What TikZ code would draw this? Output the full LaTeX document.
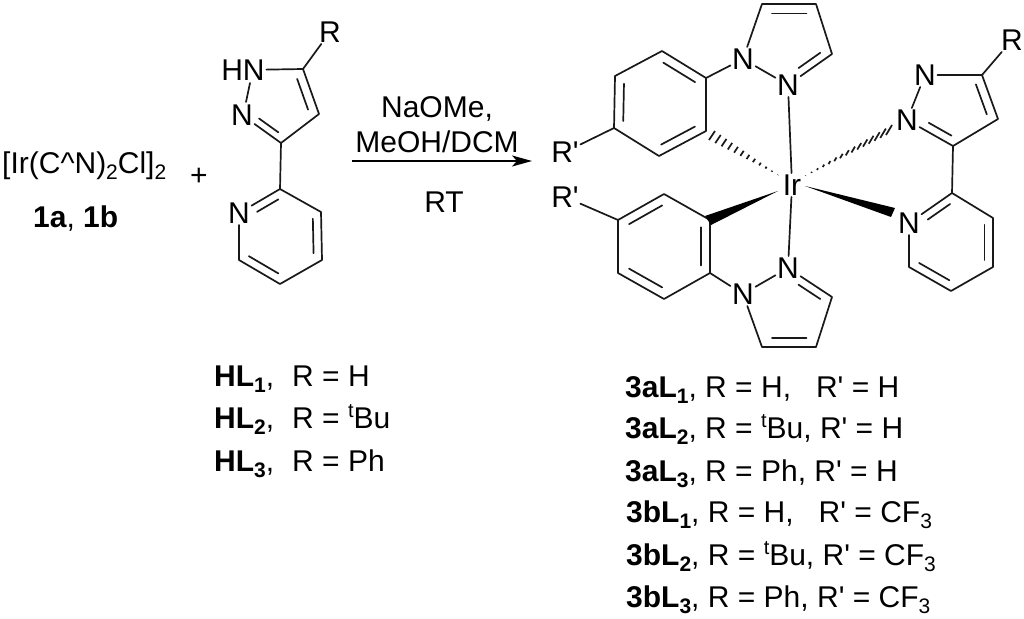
\documentclass[tikz,border=0pt]{standalone}
\usepackage{fontspec}
\setmainfont{Liberation Sans}
\usetikzlibrary{calc,arrows.meta}
\tikzset{
  atom/.style={inner sep=1.5pt,font=\fontsize{30}{30}\selectfont,anchor=center},
  lab/.style={inner sep=0pt,font=\fontsize{30}{30}\selectfont,anchor=base west},
  bond/.style={line width=1.7pt,line cap=round,line join=round,draw=black!90},
  hashline/.style={line width=1.7pt,draw=black!90},
  wedgefill/.style={fill=black}
}
\newcommand{\lsb}[1]{\raisebox{-6pt}{\fontsize{21}{21}\selectfont #1}}
\newcommand{\lsp}[1]{\raisebox{11pt}{\fontsize{20}{20}\selectfont #1}}
\newcommand{\prm}{\textquotesingle}
% inner line of a double bond: scale f about ring centre, trimmed ta / tb along the bond
\newcommand{\ib}[6]{\draw[bond] ($(#4)!#1!($(#2)!#5!(#3)$)$) -- ($(#4)!#1!($(#3)!#6!(#2)$)$);}
\newcommand{\hashb}[4]{%
  \foreach \i in {0,...,#4}{
    \pgfmathsetmacro{\t}{1-\i/(#4)*0.97}
    \draw[hashline] ($(#1)!\t!(#2)$) -- ($(#1)!\t!(#3)$);}
}
\begin{document}
\begin{tikzpicture}[x=1pt,y=-1pt]
\useasboundingbox (0,0) rectangle (1024,618);
\fill[white] (0,0) rectangle (1024,618);

% ---- left text
\node[lab] (dimer) at (2,173) {[Ir(C\textasciicircum N)\lsb{2}Cl]\lsb{2}};
\node[lab] (cpd) at (33,227) {\textbf{1a}, \textbf{1b}};
\node[atom] (plus) at (199,177) {+};

% ---- free ligand
\node[atom] (LR) at (330,32) {R};
\node[atom] (LHN) at (243,70) {HN};
\node[atom] (LNa) at (242,115) {N};
\node[atom] (LNb) at (239,213) {N};
\coordinate (L5) at (303,69);
\coordinate (L4) at (319,114);
\coordinate (L3) at (281,143);
\coordinate (P2) at (280,189);
\coordinate (P3) at (321,212);
\coordinate (P4) at (322,260);
\coordinate (P5) at (280,284);
\coordinate (P6) at (239,260);
\coordinate (Lc) at (276,103);
\coordinate (Pc) at (280,236);
\draw[bond] (LR) -- (L5);
\draw[bond] (LHN) -- (L5) -- (L4) -- (L3) -- (LNa);
\draw[bond] ($(LHN.south)+(7,1)$) -- ($(LNa.north)+(4,-1)$);
\draw[bond] (L3) -- (P2) -- (P3) -- (P4) -- (P5) -- (P6) -- (LNb) -- (P2);
\ib{.76}{L5}{L4}{Lc}{.05}{.05}
\ib{.76}{L3}{LNa}{Lc}{.05}{.3}
\ib{.8}{P2}{LNb}{Pc}{.05}{.3}
\ib{.8}{P3}{P4}{Pc}{.05}{.05}
\ib{.8}{P5}{P6}{Pc}{.05}{.05}

% ---- arrow and conditions
\node[lab,anchor=base] (cond1) at (437,117) {NaOMe,};
\node[lab,anchor=base] (cond2) at (437,152) {MeOH/DCM};
\node[lab,anchor=base] (cond3) at (444,212) {RT};
\coordinate (arrA) at (352,161);
\coordinate (arrB) at (532,161);
\draw[line width=1.7pt,-{Stealth[length=20pt,width=11pt,inset=5pt]}] (arrA) -- (arrB);

% ---- ligand labels
\node[lab] (hl1) at (214,386) {\textbf{HL\lsb{1}},};
\node[lab] (hl1b) at (292,386) {R = H};
\node[lab] (hl2) at (214,428) {\textbf{HL\lsb{2}},};
\node[lab] (hl2b) at (292,428) {R = \lsp{t}Bu};
\node[lab] (hl3) at (214,471) {\textbf{HL\lsb{3}},};
\node[lab] (hl3b) at (292,471) {R = Ph};

% ---- complex: centre
\node[atom] (Ir) at (792,185) {Ir};

% upper phenyl-pyrazole
\node[atom] (aR) at (565,152) {R\prm};
\node[atom] (aN1) at (743,59) {N};
\node[atom] (aN2) at (788,85) {N};
\coordinate (a1) at (662,51);
\coordinate (a2) at (615,76);
\coordinate (a3) at (614,128);
\coordinate (a4) at (659,156);
\coordinate (a5) at (706,131);
\coordinate (a6) at (706,78);
\coordinate (ac) at (660,104);
\coordinate (aA) at (762,4);
\coordinate (aB) at (816,4);
\coordinate (aC) at (832,54);
\coordinate (apc) at (790,44);
\draw[bond] (a1) -- (a2) -- (a3) -- (a4) -- (a5) -- (a6) -- cycle;
\draw[bond] (a3) -- (aR);
\draw[bond] (a6) -- (aN1);
\draw[bond] (aN1) -- (aN2);
\draw[bond] (aN1) -- (aA) -- (aB) -- (aC) -- (aN2);
\draw[bond] (aN2) -- (Ir);
\ib{.8}{a1}{a6}{ac}{.05}{.05}
\ib{.8}{a2}{a3}{ac}{.05}{.05}
\ib{.8}{a4}{a5}{ac}{.05}{.05}
\ib{.76}{aA}{aB}{apc}{.08}{.08}
\ib{.76}{aC}{aN2}{apc}{.05}{.3}
\coordinate (hA) at (715,131);
\coordinate (hB) at (709,140);
\coordinate (hT) at (780,176);
\hashb{hT}{hA}{hB}{11}

% lower phenyl-pyrazole
\node[atom] (bR) at (565,197) {R\prm};
\node[atom] (bN1) at (743,294) {N};
\node[atom] (bN2) at (788,268) {N};
\coordinate (b1) at (664,194);
\coordinate (b2) at (618,220);
\coordinate (b3) at (618,273);
\coordinate (b4) at (664,299);
\coordinate (b5) at (710,273);
\coordinate (b6) at (710,220);
\coordinate (bc) at (664,246);
\coordinate (bA) at (762,347);
\coordinate (bB) at (816,347);
\coordinate (bC) at (832,297);
\coordinate (bpc) at (790,310);
\draw[bond] (b1) -- (b2) -- (b3) -- (b4) -- (b5) -- (b6) -- cycle;
\draw[bond] (b2) -- (bR);
\draw[bond] (b5) -- (bN1);
\draw[bond] (bN1) -- (bN2);
\draw[bond] (bN1) -- (bA) -- (bB) -- (bC) -- (bN2);
\draw[bond] (Ir) -- (bN2);
\ib{.8}{b1}{b2}{bc}{.05}{.05}
\ib{.8}{b3}{b4}{bc}{.05}{.05}
\ib{.8}{b5}{b6}{bc}{.05}{.05}
\ib{.76}{bA}{bB}{bpc}{.08}{.08}
\ib{.76}{bC}{bN2}{bpc}{.05}{.3}
\coordinate (wT) at (778,191);
\coordinate (wA) at (705,216);
\coordinate (wB) at (711,225);
\fill[wedgefill] (wT) -- (wA) -- (wB) -- cycle;

% right pyrazolyl-pyridine
\node[atom] (cR) at (1012,40) {R};
\node[atom] (cNa) at (925,75) {N};
\node[atom] (cNb) at (907,120) {N};
\node[atom] (cNc) at (909,223) {N};
\coordinate (c5) at (982,75);
\coordinate (c4) at (998,119);
\coordinate (c3) at (953,146);
\coordinate (d2) at (952,193);
\coordinate (d3) at (993,218);
\coordinate (d4) at (993,267);
\coordinate (d5) at (951,291);
\coordinate (d6) at (909,267);
\coordinate (cc) at (954,107);
\coordinate (dc) at (951,242);
\draw[bond] (c5) -- (cR);
\draw[bond] (cNa) -- (c5) -- (c4) -- (c3) -- (cNb) -- (cNa);
\draw[bond] (c3) -- (d2) -- (d3) -- (d4) -- (d5) -- (d6) -- (cNc) -- (d2);
\ib{.76}{c5}{c4}{cc}{.05}{.05}
\ib{.76}{c3}{cNb}{cc}{.05}{.3}
\ib{.8}{d2}{cNc}{dc}{.05}{.3}
\ib{.8}{d3}{d4}{dc}{.05}{.05}
\ib{.8}{d5}{d6}{dc}{.05}{.05}
\coordinate (iA) at (892,125);
\coordinate (iB) at (886,135);
\coordinate (iT) at (803,177);
\hashb{iT}{iA}{iB}{14}
\coordinate (vT) at (805,186);
\coordinate (vA) at (895,208);
\coordinate (vB) at (891,217);
\fill[wedgefill] (vT) -- (vA) -- (vB) -- cycle;

% ---- product labels
\node[lab] (p1) at (625,397) {\textbf{3aL\lsb{1}}, R = H,\hspace{25pt}R\prm{} = H};
\node[lab] (p2) at (625,438) {\textbf{3aL\lsb{2}}, R = \lsp{t}Bu, R\prm{} = H};
\node[lab] (p3) at (625,481) {\textbf{3aL\lsb{3}}, R = Ph, R\prm{} = H};
\node[lab] (p4) at (626,522) {\textbf{3bL\lsb{1}}, R = H,\hspace{25pt}R\prm{} = CF\lsb{3}};
\node[lab] (p5) at (626,565) {\textbf{3bL\lsb{2}}, R = \lsp{t}Bu, R\prm{} = CF\lsb{3}};
\node[lab] (p6) at (626,607) {\textbf{3bL\lsb{3}}, R = Ph, R\prm{} = CF\lsb{3}};
\end{tikzpicture}
\end{document}
